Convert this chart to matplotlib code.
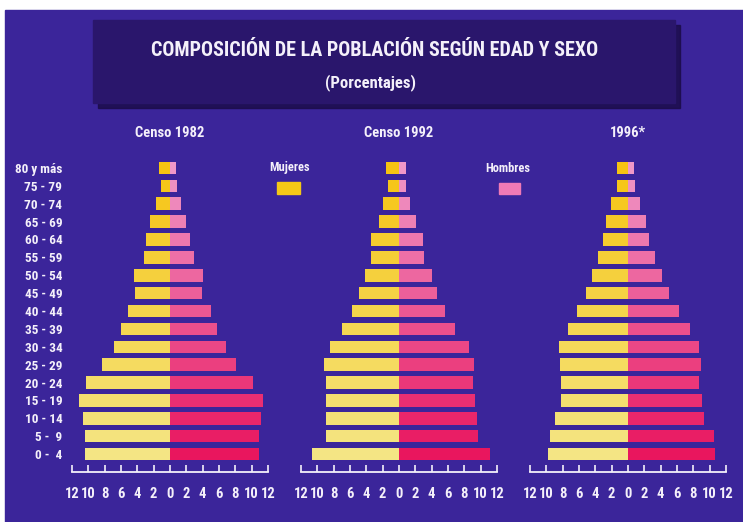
import numpy as np
import matplotlib
matplotlib.use("Agg")
import matplotlib.pyplot as plt
from matplotlib.patches import Rectangle
from matplotlib.colors import to_rgb

plt.rcParams['font.family'] = ['Roboto Condensed', 'DejaVu Sans']
plt.rcParams['font.weight'] = 'bold'
plt.rcParams['font.stretch'] = 'condensed'

# ## data (percent of each sex, youngest group first)
ages = ["0 -  4", "5 -  9", "10 - 14", "15 - 19", "20 - 24", "25 - 29", "30 - 34",
        "35 - 39", "40 - 44", "45 - 49", "50 - 54", "55 - 59", "60 - 64",
        "65 - 69", "70 - 74", "75 - 79", "80 y más"]
panel_titles = ["Censo 1982", "Censo 1992", "1996*"]

mujeres_1982 = [10.4, 10.4, 10.7, 11.1, 10.3, 8.3, 6.8, 6.0, 5.2, 4.3, 4.4, 3.2, 2.9, 2.5, 1.7, 1.1, 1.3]
hombres_1982 = [10.9, 10.9, 11.1, 11.4, 10.2, 8.1, 6.8, 5.8, 5.0, 3.9, 4.0, 2.9, 2.4, 1.9, 1.3, 0.8, 0.7]
mujeres_1992 = [10.6, 9.0, 8.9, 8.9, 9.0, 9.2, 8.5, 7.0, 5.8, 4.9, 4.2, 3.4, 3.4, 2.5, 1.9, 1.4, 1.6]
hombres_1992 = [11.2, 9.7, 9.5, 9.3, 9.1, 9.2, 8.6, 6.8, 5.6, 4.7, 4.0, 3.1, 2.9, 2.1, 1.4, 0.9, 0.9]
mujeres_1996 = [9.8, 9.6, 8.9, 8.2, 8.2, 8.3, 8.4, 7.4, 6.3, 5.2, 4.4, 3.7, 3.1, 2.7, 2.1, 1.4, 1.4]
hombres_1996 = [10.7, 10.5, 9.3, 9.0, 8.7, 8.9, 8.7, 7.6, 6.3, 5.0, 4.2, 3.3, 2.6, 2.2, 1.5, 0.9, 0.7]

mujeres = [mujeres_1982, mujeres_1992, mujeres_1996]
hombres = [hombres_1982, hombres_1992, hombres_1996]
ticks = [-12, -10, -8, -6, -4, -2, 0, 2, 4, 6, 8, 10, 12]

BG = "#3b259a"
BOX = "#2a166c"
TXT = "#f4f0fa"

W, H = 743, 522
fig = plt.figure(figsize=(W / 100, H / 100), dpi=100, facecolor="white")


def fx(x):
    return x / W


def fy(y):
    return 1 - y / H


# purple background with the thin white scan border top/left
fig.patches.append(Rectangle((fx(5), 0), 1 - fx(5), fy(10), transform=fig.transFigure,
                             color=BG, zorder=-4))

# title box + shadow
fig.patches.append(Rectangle((fx(98), fy(108)), fx(582), 83 / H, transform=fig.transFigure,
                             color="#1c0d4a", alpha=0.85, zorder=-2))
fig.patches.append(Rectangle((fx(93), fy(103)), fx(582), 83 / H, transform=fig.transFigure,
                             color=BOX, zorder=-1))
fig.text(fx(375), fy(50), "COMPOSICIÓN DE LA POBLACIÓN SEGÚN EDAD Y SEXO", color=TXT,
         fontsize=14.5, ha="center", va="center")
fig.text(fx(370), fy(83), "(Porcentajes)", color=TXT, fontsize=12, ha="center", va="center")


def blend(c1, c2, t):
    a, b = np.array(to_rgb(c1)), np.array(to_rgb(c2))
    return a + (b - a) * t


n = len(ages)
y = np.arange(n)
col_m = [blend("#f4e584", "#f6c412", i / (n - 1)) for i in range(n)]
col_h = [blend("#e9165e", "#ef98c8", i / (n - 1)) for i in range(n)]

centers = [170, 399, 628]
for k in range(3):
    left = centers[k] - 98
    ax = fig.add_axes([fx(left), fy(472), 196 / W, (472 - 159) / H])
    ax.set_facecolor("none")
    ax.barh(y, [-v for v in mujeres[k]], height=0.7, color=col_m, linewidth=0)
    ax.barh(y, hombres[k], height=0.7, color=col_h, linewidth=0)
    ax.set_xlim(-12, 12)
    ax.set_ylim(-1.0, 16.5)
    for s in ["top", "left", "right"]:
        ax.spines[s].set_visible(False)
    ax.spines["bottom"].set_color(TXT)
    ax.spines["bottom"].set_linewidth(1.3)
    ax.set_xticks(ticks)
    ax.set_xticklabels([str(abs(t)) for t in ticks])
    ax.tick_params(axis="x", direction="in", length=5, width=1.2, color=TXT,
                   labelcolor=TXT, labelsize=10.5, pad=11)
    if k == 0:
        ax.set_yticks(y)
        ax.set_yticklabels(ages)
        ax.tick_params(axis="y", length=0, labelcolor=TXT, labelsize=9.5, pad=7)
    else:
        ax.set_yticks([])
    fig.text(fx(centers[k]), fy(133), panel_titles[k], color=TXT, fontsize=10.5,
             ha="center", va="center")

# legend
fig.text(fx(290), fy(168), "Mujeres", color=TXT, fontsize=9, ha="center", va="center")
fig.patches.append(Rectangle((fx(277), fy(194)), 23 / W, 12 / H, transform=fig.transFigure,
                             color="#f5c816", zorder=3))
fig.text(fx(508), fy(168), "Hombres", color=TXT, fontsize=9, ha="center", va="center")
fig.patches.append(Rectangle((fx(499), fy(194)), 21 / W, 11 / H, transform=fig.transFigure,
                             color="#f07ab6", zorder=3))

fig.savefig("out.png", dpi=100, facecolor=fig.get_facecolor())
